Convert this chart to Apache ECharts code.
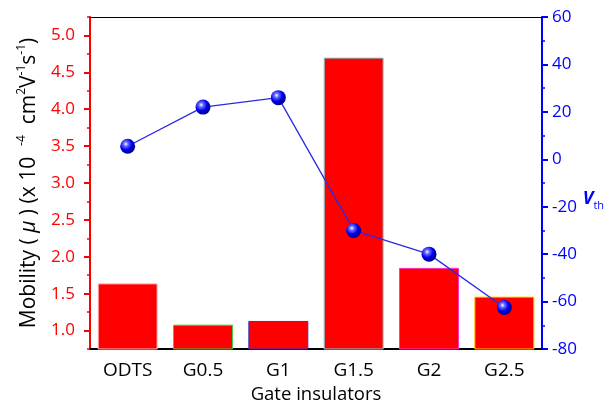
<!DOCTYPE html>
<html><head><meta charset="utf-8">
<script src="https://cdn.jsdelivr.net/npm/echarts@6/dist/echarts.min.js"></script>
<style>html,body{margin:0;padding:0;background:#fff}#c{width:613px;height:403px}</style>
</head><body><div id="c"></div>
<script>
const categories = ['ODTS', 'G0.5', 'G1', 'G1.5', 'G2', 'G2.5'];
const mobility = [1.64, 1.08, 1.13, 4.70, 1.85, 1.46];
const vth = [5.5, 22, 26, -30, -40, -62.5];
const barBorders = ['#ffc8c8', '#44cc44', '#3333cc', '#77dddd', '#ff33cc', '#ffcc00'];
const leftTicks = [1.0, 1.5, 2.0, 2.5, 3.0, 3.5, 4.0, 4.5, 5.0];
const rightTicks = [-80, -60, -40, -20, 0, 20, 40, 60];

const FONT = 'Open Sans';
const chart = echarts.init(document.getElementById('c'), null, {renderer: 'canvas'});
const sphere = {
  type: 'radial', x: 0.38, y: 0.35, r: 0.65,
  colorStops: [
    {offset: 0, color: '#ffffff'},
    {offset: 0.22, color: '#6f6fff'},
    {offset: 0.6, color: '#0000f0'},
    {offset: 1, color: '#00008a'}
  ]
};
chart.setOption({
  animation: false,
  textStyle: {fontFamily: FONT},
  grid: {left: 90, right: 71, top: 17, bottom: 54, containLabel: false, outerBoundsMode: 'none'},
  xAxis: [
    {
      type: 'category', data: categories, position: 'bottom', boundaryGap: true,
      axisLine: {onZero: false, lineStyle: {color: '#000', width: 2}},
      axisTick: {alignWithLabel: true, length: 6, lineStyle: {color: '#000', width: 2}},
      axisLabel: {color: '#000', fontSize: 19, fontFamily: FONT, margin: 12},
      name: 'Gate insulators', nameLocation: 'middle', nameGap: 35,
      nameTextStyle: {color: '#000', fontSize: 18.5, fontFamily: FONT}
    },
    {
      type: 'category', data: categories, position: 'bottom', boundaryGap: true,
      axisLine: {show: false, onZero: false},
      axisTick: {length: 3, lineStyle: {color: '#000', width: 1.5}},
      axisLabel: {show: false}
    },
    {
      type: 'category', data: categories, position: 'top', boundaryGap: true,
      axisLine: {onZero: false, lineStyle: {color: '#000', width: 1}},
      axisTick: {alignWithLabel: true, inside: true, length: 5, lineStyle: {color: '#000'}},
      axisLabel: {show: false}
    }
  ],
  yAxis: [
    {
      type: 'value', min: 0.75, max: 5.25, interval: 0.25, position: 'left',
      axisLine: {show: true, onZero: false, lineStyle: {color: '#ff0000', width: 2}},
      axisTick: {show: true, length: 3, lineStyle: {color: '#ff0000', width: 1.5}},
      axisLabel: {show: false},
      splitLine: {show: false},
      name: 'Mobility ( {i|μ} ) (x 10  {sup|-4}  cm{sup|2}V{sup|-1}s{sup|-1})',
      nameLocation: 'middle', nameRotate: 90, nameGap: 48,
      nameTextStyle: {
        color: '#000', fontSize: 21, fontFamily: FONT, lineHeight: 26,
        rich: {
          i: {fontSize: 21, fontStyle: 'italic', fontFamily: FONT, color: '#000', lineHeight: 26},
          sup: {fontSize: 12, fontFamily: FONT, color: '#000', verticalAlign: 'top', lineHeight: 26}
        }
      }
    },
    {
      type: 'value', min: 0.75, max: 5.25, position: 'left',
      axisLine: {show: false, onZero: false},
      axisTick: {show: true, length: 6, customValues: leftTicks, lineStyle: {color: '#ff0000', width: 2}},
      axisLabel: {show: true, customValues: leftTicks, color: '#ff0000', fontSize: 17, fontFamily: FONT, margin: 15,
        formatter: v => v.toFixed(1)},
      splitLine: {show: false}
    },
    {
      type: 'value', min: -80, max: 60, interval: 20, position: 'right',
      axisLine: {show: true, onZero: false, lineStyle: {color: '#0000ff', width: 2}},
      axisTick: {show: true, length: 6, lineStyle: {color: '#0000ff', width: 2}},
      minorTick: {show: true, splitNumber: 2, length: 3, lineStyle: {color: '#0000ff', width: 1.5}},
      axisLabel: {show: true, customValues: rightTicks, color: '#0000ff', fontSize: 17, fontFamily: FONT, margin: 10},
      splitLine: {show: false},
      name: '{v|V}{s|th}', nameLocation: 'middle', nameRotate: 0, nameGap: 40,
      nameTextStyle: {
        padding: [32, 0, 0, 0],
        rich: {
          v: {fontSize: 18, fontWeight: 'bold', fontStyle: 'italic', color: '#0000ff', fontFamily: FONT, lineHeight: 24},
          s: {fontSize: 11, color: '#0000ff', fontFamily: FONT, verticalAlign: 'bottom', lineHeight: 24}
        }
      }
    }
  ],
  series: [
    {
      type: 'bar', xAxisIndex: 0, yAxisIndex: 0, barWidth: 60,
      data: mobility.map((v, i) => ({value: v, itemStyle: {color: '#ff0000', borderColor: barBorders[i], borderWidth: 1}})),
      z: 2
    },
    {
      type: 'line', xAxisIndex: 0, yAxisIndex: 2, data: vth,
      symbol: 'circle', symbolSize: 15,
      itemStyle: {color: sphere},
      lineStyle: {color: '#2a2ae6', width: 1.3},
      z: 3
    }
  ]
});
</script></body></html>
